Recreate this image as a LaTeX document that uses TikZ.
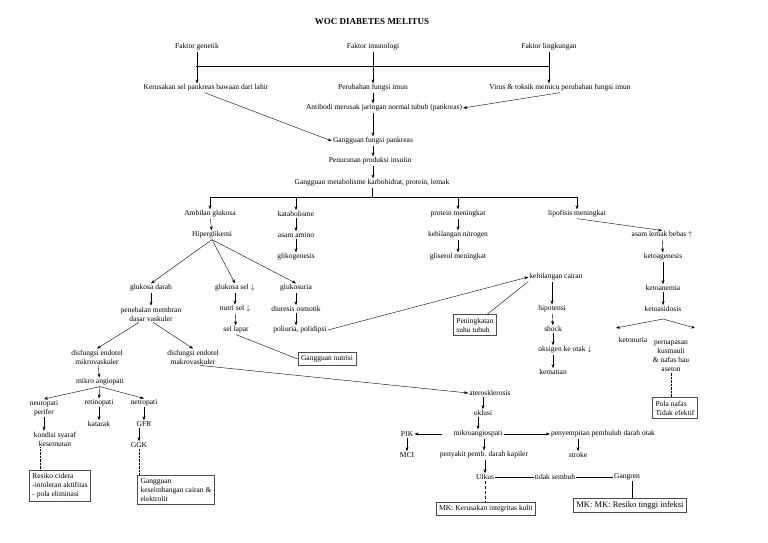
\documentclass[tikz,border=0pt]{standalone}
\usepackage{fontspec}
\setmainfont{Liberation Serif}
\usetikzlibrary{arrows.meta}
\begin{document}
\begin{tikzpicture}[x=1pt,y=-1pt,
  t/.style={inner sep=1pt, font=\fontsize{7.5}{9}\selectfont, align=center},
  box/.style={draw=black!70, thick, inner sep=3pt, font=\fontsize{7.5}{9}\selectfont, align=left},
  ar/.style={-{Stealth[length=4pt,width=3pt]}},
  dot/.style={densely dotted},
]
\useasboundingbox (0,0) rectangle (768,543);
% title and factors
\node[t, font=\bfseries\fontsize{9}{10}\selectfont] (title) at (372,22) {WOC DIABETES MELITUS};
\node[t] (fg) at (197,47) {Faktor genetik};
\node[t] (fi) at (373,47) {Faktor imunologi};
\node[t] (fl) at (549,47) {Faktor lingkungan};
\node[t] (ks) at (206,88) {Kerusakan sel pankreas bawaan dari lahir};
\node[t] (pf) at (373,88) {Perubahan fungsi imun};
\node[t] (vt) at (560,88) {Virus \& toksik memicu perubahan fungsi imun};
\node[t] (ab) at (384,108) {Antibodi merusak jaringan normal tubuh (pankreas)};
\node[t] (gp) at (373,141) {Gangguan fungsi pankreas};
\node[t] (pi) at (370,161) {Penurunan produksi insulin};
\node[t] (gm) at (372,183) {Gangguan metabolisme karbohidrat, protein, lemak};
\coordinate (b1) at (196,66); \coordinate (b2) at (549,66);
\draw (b1) -- (b2);
\draw[ar] (fg.south) -- (fg.south |- ks.north);
\draw[ar] (fi.south) -- (pf.north);
\draw[ar] (fl.south) -- (fl.south |- vt.north);
\draw[ar] (pf.south) -- (pf.south |- ab.north);
\draw[ar] (vt.south) -- (ab.east);
\draw[ar] (ks.south west) ++(62,0) -- (gp.west);
\draw[ar] (pf.south |- ab.south) -- (gp.north);
\draw[ar] (gp.south) -- (gp.south |- pi.north);
\draw[ar] (gp.south |- pi.south) -- (gp.south |- gm.north);
% four branches
\node[t] (ag) at (210,214) {Ambilan glukosa};
\node[t] (kb) at (296,214) {katabolisme};
\node[t] (pm) at (458,214) {protein meningkat};
\node[t] (lm) at (577,214) {lipofisis meningkat};
\coordinate (c1) at (210,197); \coordinate (c2) at (577,197);
\draw (gm.south) -- (gm.south |- c1);
\draw (c1) -- (c2);
\draw[ar] (c1) -- (ag.north);
\draw[ar] (kb.north |- c1) -- (kb.north);
\draw[ar] (pm.north |- c1) -- (pm.north);
\draw[ar] (c2) -- (lm.north);
\node[t] (hg) at (212,235) {Hiperglikemi};
\node[t] (aa) at (296,235) {asam amino};
\node[t] (gk) at (296,257) {glikogenesis};
\node[t] (kn) at (458,235) {kehilangan nitrogen};
\node[t] (gl) at (458,257) {gliserol meningkat};
\node[t] (al) at (662,235) {asam lemak bebas $\uparrow$};
\node[t] (ka) at (663,257) {ketoagenesis};
\node[t] (kt) at (663,288) {ketoanemia};
\node[t] (ko) at (663,309) {ketoasidosis};
\node[t] (ku) at (633,340) {ketonuria};
\node[t] (pk) at (671,356) {pernapasan\\kusmauli\\\& nafas bau\\aseton};
\draw[ar] (ag) -- (hg);
\draw[ar] (kb) -- (aa);
\draw[ar] (aa) -- (gk);
\draw[ar] (pm) -- (kn);
\draw[ar] (kn) -- (gl);
\draw[ar] (lm.south) -- (al.north);
\draw[ar] (al) -- (ka);
\draw[ar] (ka) -- (kt);
\draw[ar] (kt) -- (ko);
\coordinate (kx) at (663,319);
\draw[ar] (kx) -- (616,328);
\draw[ar] (kx) -- (695,328);
\node[box] (pn) at (675,408) {Pola nafas\\Tidak efektif};
\draw[dot] (pk.south) -- (pk.south |- pn.north);
% hiperglikemi branches
\node[t] (gd) at (151,288) {glukosa darah};
\node[t] (gs) at (235,288) {glukosa sel $\downarrow$};
\node[t] (gu) at (296,288) {glukosuria};
\node[t] (pb) at (151,314) {penebalan membran\\dasar vaskuler};
\node[t] (ns) at (235,309) {nutri sel $\downarrow$};
\node[t] (sl) at (236,330) {sel lapar};
\node[t] (do) at (296,309) {diuresis osmotik};
\node[t] (pp) at (300,330) {poliuria, polidipsi};
\draw[ar] (hg.south) -- (gd.north);
\draw[ar] (hg.south) -- (gs.north);
\draw[ar] (hg.south) -- (gu.north);
\draw[ar] (gd) -- (pb);
\draw[ar] (gs) -- (ns);
\draw[ar] (ns) -- (sl);
\draw[ar] (gu) -- (do);
\draw[ar] (do.south) -- (do.south |- pp.north);
\node[box, align=center] (gn) at (327,359) {Gangguan nutrisi};
\draw (sl.south) -- (gn.west);
% fluid loss
\node[t] (kc) at (556,277) {kehilangan cairan};
\node[t] (ht) at (552,309) {hipotensi};
\node[t] (sh) at (553,329) {shock};
\node[t] (ok) at (565,350) {oksigen ke otak $\downarrow$};
\node[t] (km) at (553,372) {kematian};
\node[box] (st) at (475,325) {Peningkatan\\suhu tubuh};
\draw[ar] (pp.east) -- (kc.west);
\draw (st.north east) ++(-10,0) -- (kc.south west);
\draw[ar] (kc.south -| ht) -- (ht);
\draw[ar] (ht) -- (sh);
\draw[ar] (sh) -- (sh |- ok.north);
\draw[ar] (sh |- ok.south) -- (km);
% vascular
\node[t] (dm) at (97,357) {disfungsi endotel\\mikrovaskuler};
\node[t] (dk) at (193,357) {disfungsi endotel\\makrovaskuler};
\draw[ar] (pb.south) ++(-12,0) -- (dm.north);
\draw[ar] (pb.south) ++(2,0) -- (dk.north);
\node[t] (ma) at (100,382) {mikro angiopati};
\draw[ar] (dm) -- (ma);
\node[t] (np) at (44,408) {neuropati\\perifer};
\node[t] (rp) at (99,403) {retinopati};
\node[t] (nt) at (144,403) {netropati};
\node[t] (ktr) at (99,424) {katarak};
\node[t] (gf) at (144,424) {GFR};
\node[t] (kk) at (55,439) {kondisi syaraf\\kesemutan};
\node[t] (gg) at (139,445) {GGK};
\draw[ar] (ma.south) -- (np.north);
\draw[ar] (ma.south) -- (rp.north);
\draw[ar] (ma.south) -- (nt.north);
\draw[ar] (rp) -- (ktr);
\draw[ar] (nt) -- (gf);
\draw[ar] (gf.south -| gg) -- (gg);
\draw[ar] (np.south) -- (np.south |- kk.north);
\node[box] (rc) at (60,486) {Resiko cidera\\-intoleran aktifitas\\- pola eliminasi};
\node[box] (gc) at (176,490) {Gangguan\\keseimbangan cairan \&\\elektrolit};
\draw[dot] (kk.south -| 40,0) -- (rc.north -| 40,0);
\draw[dot] (gg.south) -- (gg.south |- gc.north);
% macro
\node[t] (at) at (490,393) {aterosklerosis};
\node[t] (oc) at (483,413) {oklusi};
\node[t] (mi) at (478,434) {mikroangiospati};
\node[t] (pj) at (407,434) {PJK};
\node[t] (mc) at (407,455) {MCI};
\node[t] (pd) at (484,455) {penyakit pemb. darah kapiler};
\node[t] (py) at (603,434) {penyempitan pembuluh darah otak};
\node[t] (sk) at (578,455) {stroke};
\node[t] (ul) at (485,477) {Ulkus};
\node[t] (ts) at (555,477) {tidak sembuh};
\node[t] (gr) at (627,477) {Gangren};
\draw[ar] (dk.south east) ++(-20,0) -- (at.west);
\draw[ar] (at.south -| oc) -- (oc);
\draw[ar] (oc.south -| mi) -- (mi);
\draw[ar] (mi.west) ++(-10,0) -- (pj.east);
\draw[ar] (mi.east) -- (py.west);
\draw[ar] (pj) -- (mc);
\draw[ar] (mi.south -| pd) -- (pd);
\draw[ar] (sk.north |- py.south) -- (sk);
\draw[ar] (pd.south -| ul) -- (ul);
\draw (ul) -- (ts);
\draw (ts) -- (gr);
\node[box] (mk1) at (486,509) {MK: Kerusakan integritas kulit};
\node[box, font=\fontsize{8.5}{10}\selectfont] (mk2) at (630,505) {MK: MK: Resiko tinggi infeksi};
\draw[densely dashed] (ul.south -| 485,0) -- (mk1.north -| 485,0);
\draw (gr.south -| 632,0) -- (mk2.north -| 632,0);
\end{tikzpicture}
\end{document}
